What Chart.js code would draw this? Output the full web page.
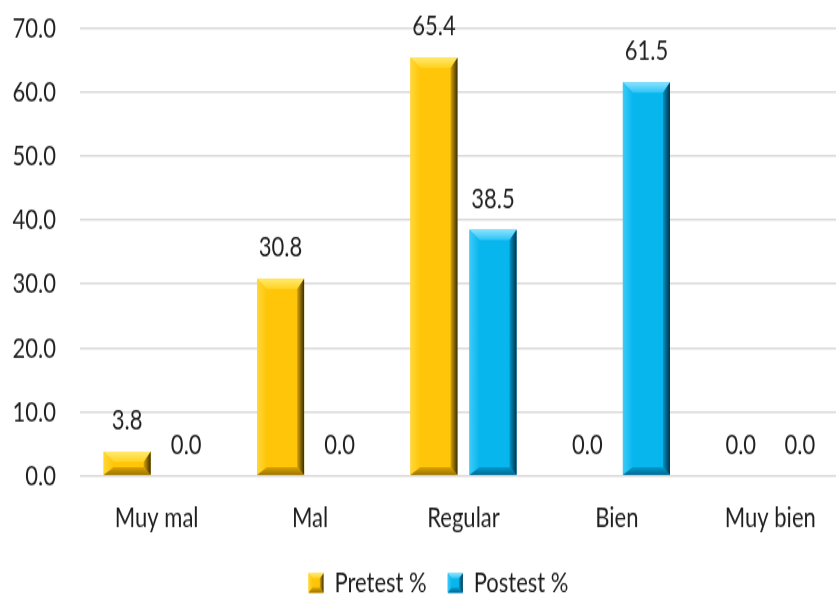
<!DOCTYPE html>
<html>
<head>
<meta charset="utf-8">
<script src="https://cdn.jsdelivr.net/npm/chart.js@4.4.1/dist/chart.umd.min.js"></script>
<style>
  html, body { margin: 0; padding: 0; background: #ffffff; width: 836px; height: 596px; overflow: hidden; }
  #wrap { position: absolute; left: 0; top: 0; width: 850px; height: 470px; transform-origin: 0 0; transform: scale(1, 1.30131); }
  canvas { display: block; }
</style>
</head>
<body>
<div id="wrap"><canvas id="chart" width="850" height="470"></canvas></div>
<script>
// Categories and series values
const categories = ['Muy mal', 'Mal', 'Regular', 'Bien', 'Muy bien'];
const pretest = [3.8, 30.8, 65.4, 0.0, 0.0];
const postest = [0.0, 0.0, 38.5, 61.5, 0.0];
const seriesNames = ['Pretest %', 'Postest %'];
const yMin = 0;
const yMax = 70;
const yStep = 10;

// Bevel palettes for each series
const palettes = [
  { face: '#FFC508', top0: '#FFEA70', top1: '#FFD21E', left0: '#FFD83A', right1: '#3A2C00', right0: '#D9A500', bot0: '#D9A200', bot1: '#9C7400' },
  { face: '#08B6EE', top0: '#8AE3FF', top1: '#2CC4F6', left0: '#3CCBF8', right1: '#00324A', right0: '#0094C6', bot0: '#0098CC', bot1: '#006A94' }
];

const TEXT = '#1f1f1f';
const FONT = "Lato, 'Open Sans', sans-serif";

function drawBevel(ctx, l, t, r, b, pal, bxMax, byMax, rxMax, bbMax) {
  const w = r - l, h = b - t;
  if (h < 0.5 || w < 1) return;
  const by = Math.min(byMax, h / 2);
  const bb = Math.min(bbMax, h / 2);
  const bx = Math.min(bxMax, w / 3);
  const rx = Math.min(rxMax, w / 4);
  ctx.save();
  // top facet
  let g = ctx.createLinearGradient(0, t, 0, t + by);
  g.addColorStop(0, pal.top0); g.addColorStop(1, pal.top1);
  ctx.fillStyle = g;
  ctx.beginPath();
  ctx.moveTo(l, t); ctx.lineTo(r, t); ctx.lineTo(r - rx, t + by); ctx.lineTo(l + bx, t + by); ctx.closePath();
  ctx.fill();
  // left facet
  g = ctx.createLinearGradient(l, 0, l + bx, 0);
  g.addColorStop(0, pal.left0); g.addColorStop(1, pal.face);
  ctx.fillStyle = g;
  ctx.beginPath();
  ctx.moveTo(l, t); ctx.lineTo(l + bx, t + by); ctx.lineTo(l + bx, b - bb); ctx.lineTo(l, b); ctx.closePath();
  ctx.fill();
  // bottom facet
  g = ctx.createLinearGradient(0, b - bb, 0, b);
  g.addColorStop(0, pal.bot0); g.addColorStop(1, pal.bot1);
  ctx.fillStyle = g;
  ctx.beginPath();
  ctx.moveTo(l, b); ctx.lineTo(l + bx, b - bb); ctx.lineTo(r - rx, b - bb); ctx.lineTo(r, b); ctx.closePath();
  ctx.fill();
  // right facet (shadow side)
  g = ctx.createLinearGradient(r - rx, 0, r, 0);
  g.addColorStop(0, pal.right0); g.addColorStop(1, pal.right1);
  ctx.fillStyle = g;
  ctx.beginPath();
  ctx.moveTo(r, t); ctx.lineTo(r, b); ctx.lineTo(r - rx, b - bb); ctx.lineTo(r - rx, t + by); ctx.closePath();
  ctx.fill();
  ctx.restore();
}

// Beveled bars, value labels and beveled legend swatches
const bevelPlugin = {
  id: 'bevelBars',
  afterLayout(chart) {
    // centre the legend row under the plot a little to the right
    if (chart.legend) {
      chart.legend.left += 15;
      chart.legend.right += 15;
    }
  },
  afterDatasetsDraw(chart) {
    const ctx = chart.ctx;
    chart.data.datasets.forEach((ds, di) => {
      const meta = chart.getDatasetMeta(di);
      meta.data.forEach((el) => {
        const p = el.getProps(['x', 'y', 'base', 'width'], true);
        const l = p.x - p.width / 2, r = p.x + p.width / 2;
        const t = Math.min(p.y, p.base), b = Math.max(p.y, p.base);
        drawBevel(ctx, l, t, r, b, palettes[di], 10, 8, 7, 6);
      });
    });
    ctx.save();
    ctx.fillStyle = TEXT;
    ctx.font = '22px ' + FONT;
    ctx.textAlign = 'center';
    ctx.textBaseline = 'middle';
    chart.data.datasets.forEach((ds, di) => {
      const meta = chart.getDatasetMeta(di);
      meta.data.forEach((el, i) => {
        const p = el.getProps(['x', 'y'], true);
        ctx.fillText(Number(ds.data[i]).toFixed(1), p.x, p.y - 24);
      });
    });
    ctx.restore();
  },
  afterDraw(chart) {
    const lg = chart.legend;
    if (!lg || !lg.legendHitBoxes) return;
    lg.legendHitBoxes.forEach((hb, i) => {
      const s = 15;
      const top = hb.top + (hb.height - s) / 2;
      drawBevel(chart.ctx, hb.left, top, hb.left + s, top + s, palettes[i], 4, 4, 4, 4);
    });
  }
};

const ctx = document.getElementById('chart').getContext('2d');
new Chart(ctx, {
  type: 'bar',
  data: {
    labels: categories,
    datasets: [
      { label: seriesNames[0], data: pretest, backgroundColor: palettes[0].face, borderWidth: 0 },
      { label: seriesNames[1], data: postest, backgroundColor: palettes[1].face, borderWidth: 0 }
    ]
  },
  options: {
    responsive: false,
    devicePixelRatio: 1,
    animation: false,
    categoryPercentage: 0.77,
    barPercentage: 0.797,
    layout: { padding: { top: 21.5, right: 3, bottom: 1, left: 0 } },
    font: { family: FONT },
    plugins: {
      tooltip: { enabled: false },
      legend: {
        position: 'bottom',
        labels: {
          boxWidth: 15,
          boxHeight: 15,
          padding: 21,
          color: TEXT,
          font: { family: FONT, size: 22 }
        }
      }
    },
    scales: {
      x: {
        grid: { display: false, drawTicks: false },
        border: { display: false },
        ticks: { color: TEXT, padding: 19, font: { family: FONT, size: 22 } },
        afterFit(scale) { scale.height = 50.2; }
      },
      y: {
        min: yMin,
        max: yMax,
        grid: { color: '#D9D9D9', lineWidth: 1.5, drawTicks: false },
        border: { display: false },
        ticks: {
          stepSize: yStep,
          color: TEXT,
          padding: 24,
          font: { family: FONT, size: 22 },
          callback: (v) => Number(v).toFixed(1)
        },
        afterFit(scale) {
          scale.width = 80;
          scale.paddingTop = 13;
          scale.paddingBottom = 13;
        }
      }
    }
  },
  plugins: [bevelPlugin]
});
</script>
</body>
</html>
